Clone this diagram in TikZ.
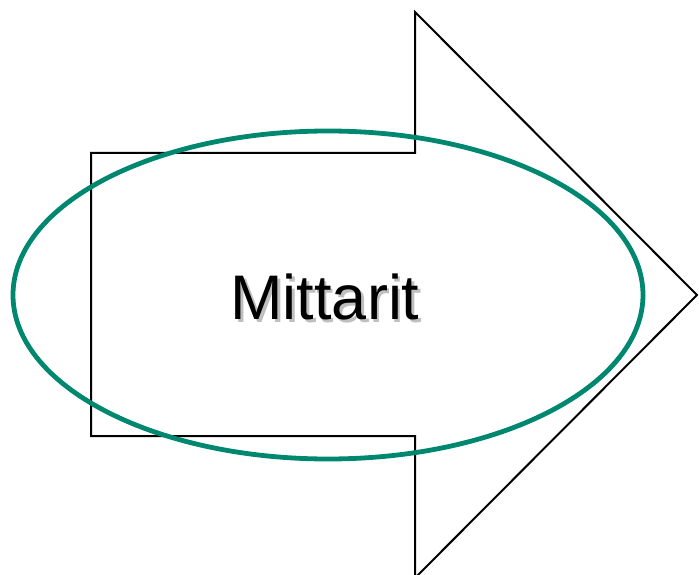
\documentclass[tikz,border=0pt]{standalone}
\usepackage{fontspec}
\setmainfont{Liberation Sans}
\definecolor{teal1}{HTML}{00876F}
\tikzset{
  arrowshape/.style={draw=black, line width=2pt, line join=miter},
  ring/.style={draw=teal1, line width=4.8pt},
  label/.style={font=\fontsize{63}{70}\selectfont, inner sep=0pt}
}
\begin{document}
\begin{tikzpicture}[x=1pt,y=-1pt]
\useasboundingbox (0,0) rectangle (699,575);
\begin{scope}
\clip (0,0) rectangle (699,575);
\draw[arrowshape] (91,153) -- (415,153) -- (415,12) -- (697,295) -- (415,578) -- (415,436) -- (91,436) -- cycle;
\end{scope}
\draw[ring] (328,295) ellipse [x radius=315, y radius=164];
\node[label, text=black!25] (shadow) at (327.5,299.5) {Mittarit};
\node[label] (lbl) at (325,297) {Mittarit};
\end{tikzpicture}
\end{document}
